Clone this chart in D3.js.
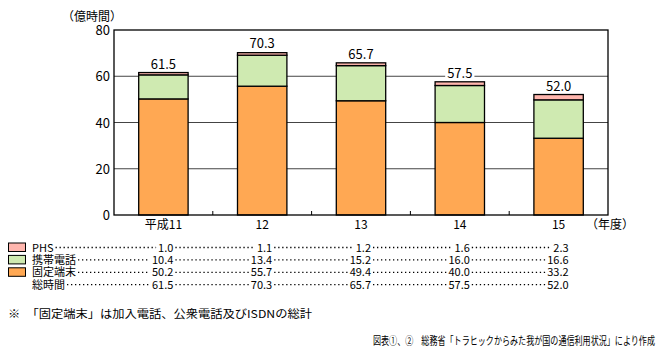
<!DOCTYPE html>
<html><head><meta charset="utf-8">
<script src="https://cdn.jsdelivr.net/npm/d3@7"></script>
<style>body{margin:0;background:#fff}svg{display:block}text{font-family:"Noto Sans CJK JP","Noto Sans",sans-serif;}</style>
</head><body><svg id="c" width="667" height="359"></svg>
<script>
const years = ["平成11","12","13","14","15"];
const seriesNames = ["PHS","携帯電話","固定端末"];
const phs = [1.0,1.1,1.2,1.6,2.3];
const mobile = [10.4,13.4,15.2,16.0,16.6];
const fixed = [50.2,55.7,49.4,40.0,33.2];
const total = [61.5,70.3,65.7,57.5,52.0];
const yTicks = [0,20,40,60,80];
const colors = {"PHS":"#FFB6AE","携帯電話":"#CFEAB1","固定端末":"#FFA853"};

const svg = d3.select("#c");
const L=114, R=608, T=30, B=215;
const x = d3.scaleBand().domain(years).range([L,R]).paddingInner(0.5).paddingOuter(0.25);
const y = d3.scaleLinear().domain([0,80]).range([B,T]);

// gridlines
svg.append("g").selectAll("line").data(yTicks.filter(d=>d>0&&d<80)).join("line")
  .attr("x1",L).attr("x2",R).attr("y1",d=>y(d)).attr("y2",d=>y(d))
  .attr("stroke","#444").attr("stroke-width",1);

// stacked bars
const rows = years.map((yr,i)=>({year:yr,"固定端末":fixed[i],"携帯電話":mobile[i],"PHS":phs[i]}));
const stack = d3.stack().keys(["固定端末","携帯電話","PHS"])(rows);
svg.append("g").selectAll("g").data(stack).join("g").attr("fill",d=>colors[d.key])
  .selectAll("rect").data(d=>d).join("rect")
  .attr("x",d=>x(d.data.year)).attr("width",x.bandwidth())
  .attr("y",d=>y(d[1])).attr("height",d=>y(d[0])-y(d[1]))
  .attr("stroke","#000").attr("stroke-width",1.3);

// total labels with white background
const lg = svg.append("g");
years.forEach((yr,i)=>{
  const cx = x(yr)+x.bandwidth()/2;
  const t = lg.append("text").attr("x",cx).attr("y",y(total[i])-4).attr("text-anchor","middle")
    .attr("font-size",13).text(total[i].toFixed(1));
  const bb = t.node().getBBox();
  lg.insert("rect","text").attr("x",bb.x-2).attr("y",bb.y+2).attr("width",bb.width+4).attr("height",bb.height-4).attr("fill","#fff");
});

// frame
svg.append("rect").attr("x",L).attr("y",T).attr("width",R-L).attr("height",B-T)
  .attr("fill","none").attr("stroke","#000").attr("stroke-width",1.3);

// inner ticks between categories
svg.append("g").selectAll("line").data(years.slice(1)).join("line")
  .attr("x1",d=>x(d)-x.step()*0.25).attr("x2",d=>x(d)-x.step()*0.25)
  .attr("y1",B).attr("y2",B-4).attr("stroke","#000");

// y axis labels
svg.append("g").selectAll("text").data(yTicks).join("text")
  .attr("x",L-4).attr("y",d=>y(d)+5).attr("text-anchor","end").attr("font-size",13).text(d=>d);
svg.append("text").attr("x",62).attr("y",21).attr("font-size",12).text("（億時間）");

// x labels
svg.append("g").selectAll("text").data(years).join("text")
  .attr("x",d=>x(d)+x.bandwidth()/2).attr("y",229).attr("text-anchor","middle").attr("font-size",12).text(d=>d);
svg.append("text").attr("x",586).attr("y",229).attr("font-size",12).text("（年度）");

// legend table
const tableRows = [
  {name:"PHS", vals:phs, sw:true},
  {name:"携帯電話", vals:mobile, sw:true},
  {name:"固定端末", vals:fixed, sw:true},
  {name:"総時間", vals:total, sw:false}
];
const tg = svg.append("g");
tableRows.forEach((r,ri)=>{
  const ty = 251.5 + ri*12.4;
  if(r.sw) tg.append("rect").attr("x",8.5).attr("y",ty-8.5).attr("width",17).attr("height",8.5)
    .attr("fill",colors[r.name]).attr("stroke","#000").attr("stroke-width",1);
  const lab = tg.append("text").attr("x",32).attr("y",ty).attr("font-size",11).text(r.name);
  let prevEnd = 32 + lab.node().getComputedTextLength() + 2;
  r.vals.forEach((v,i)=>{
    const rx = x(years[i])+x.bandwidth()/2+10;
    const vt = tg.append("text").attr("x",rx).attr("y",ty).attr("text-anchor","end").attr("font-size",11).text(v.toFixed(1));
    const w = vt.node().getComputedTextLength();
    tg.append("line").attr("x1",prevEnd).attr("x2",rx-w-2).attr("y1",ty-4).attr("y2",ty-4)
      .attr("stroke","#000").attr("stroke-width",1.3).attr("stroke-dasharray","1.3,2.7");
    prevEnd = rx + 2;
  });
});

svg.append("text").attr("x",8).attr("y",318).attr("font-size",11)
  .attr("textLength",304).attr("lengthAdjust","spacingAndGlyphs")
  .text("※　「固定端末」は加入電話、公衆電話及びISDNの総計");
svg.append("text").attr("x",655).attr("y",345).attr("font-size",11).attr("text-anchor","end")
  .attr("textLength",282).attr("lengthAdjust","spacingAndGlyphs")
  .text("図表①、②　総務省「トラヒックからみた我が国の通信利用状況」により作成");
</script></body></html>
